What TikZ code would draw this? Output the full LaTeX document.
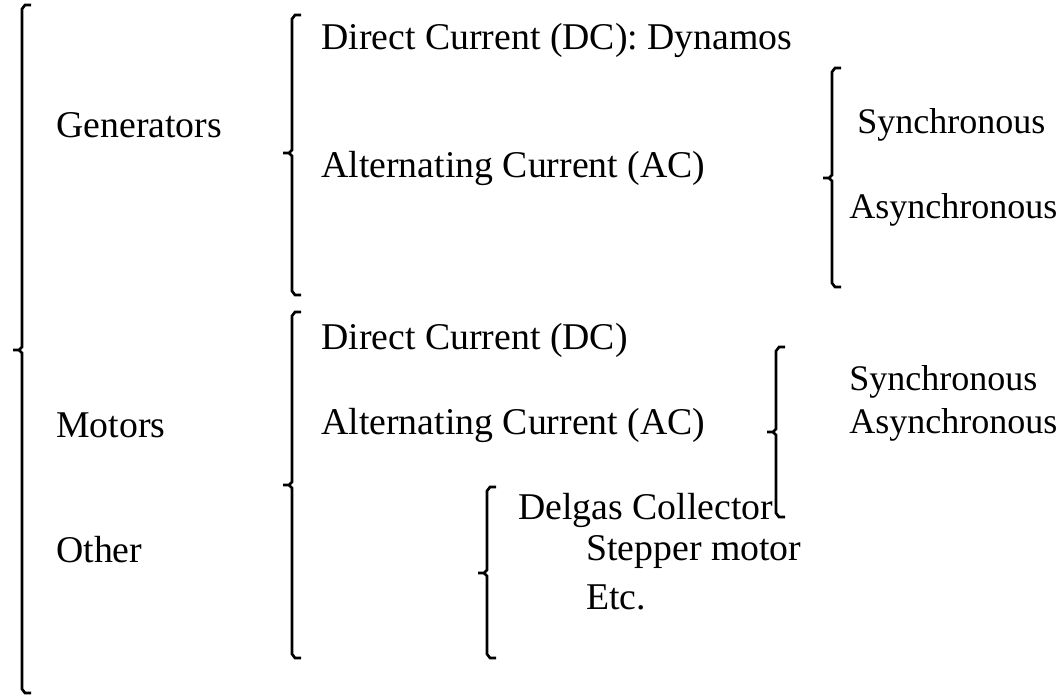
\documentclass[tikz,border=0pt]{standalone}
\usepackage{fontspec}
\setmainfont{Liberation Serif}
\newcommand{\brk}[5]{% name, x, top, mid, bottom
  \coordinate (#1) at (#2-9,#4);
  \draw (#2+9,#3) -- (#2+3,#3) -- (#2,#3+4) -- (#2,#4-3) -- (#2-3,#4) -- (#1);
  \draw (#2-3,#4) -- (#2,#4+3) -- (#2,#5-4) -- (#2+3,#5) -- (#2+9,#5);}
\begin{document}
\begin{tikzpicture}[x=0.02cm,y=-0.02cm,line width=1.5pt,
  lbl/.style={anchor=west,inner sep=0pt,font=\fontsize{21.5}{26}\selectfont},
  rgt/.style={lbl,font=\fontsize{20.5}{26}\selectfont}]
  \useasboundingbox (0,0) rectangle (1064,698);
  \brk{all}{22}{5}{350}{693}
  \brk{gen}{292}{15}{153}{295}
  \brk{genac}{832}{68}{178}{287}
  \brk{mot}{292}{312}{485}{658}
  \brk{motac}{776}{347}{432}{517}
  \brk{oth}{487}{487}{573}{658}

  \node[lbl] (generators) at (55,125) {Generators};
  \node[lbl] (motors) at (55,425) {Motors};
  \node[lbl] (other) at (55,550) {Other};

  \node[lbl] (gendc) at (320,40) {Direct Current (DC): Dynamos};
  \node[lbl] (genacl) at (320,168) {Alternating Current (AC)};
  \node[rgt] (gensyn) at (856,125) {Synchronous};
  \node[rgt] (genasyn) at (848,210) {Asynchronous};

  \node[lbl] (motdc) at (320,340) {Direct Current (DC)};
  \node[lbl] (motacl) at (320,425) {Alternating Current (AC)};
  \node[rgt] (motsyn) at (848,382) {Synchronous};
  \node[rgt] (motasyn) at (848,425) {Asynchronous};

  \node[lbl] (delgas) at (517,510) {Delgas Collector};
  \node[lbl] (stepper) at (585,552) {Stepper motor};
  \node[lbl] (etc) at (585,597) {Etc.};
\end{tikzpicture}
\end{document}
